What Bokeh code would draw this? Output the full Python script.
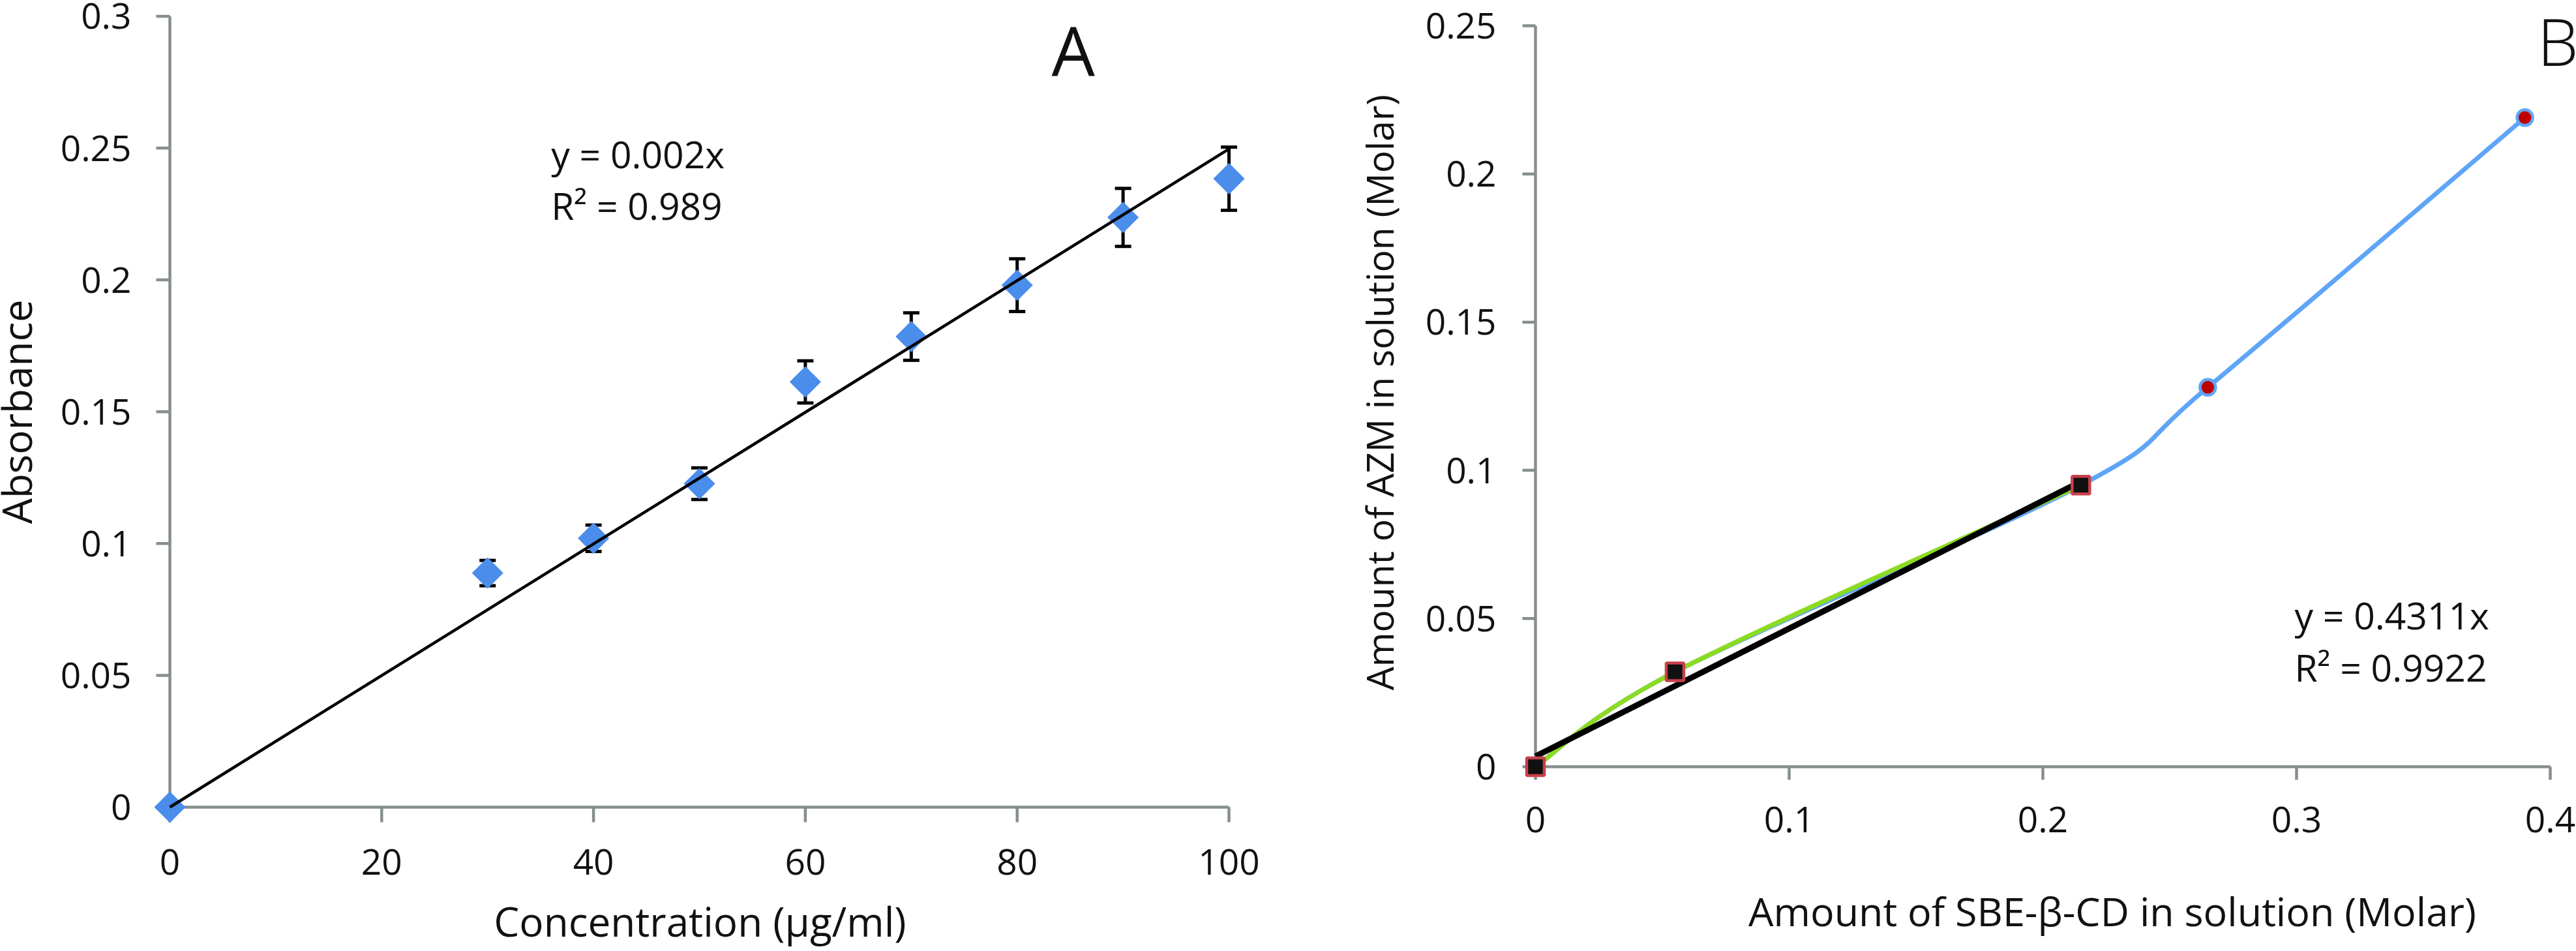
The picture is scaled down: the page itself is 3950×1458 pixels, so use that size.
import numpy as np
from bokeh.plotting import figure
from bokeh.layouts import row
from bokeh.models import Range1d, FixedTicker, Whisker, TeeHead, ColumnDataSource, Label
from bokeh.embed import file_html
from bokeh.resources import INLINE

# ---------------- data: panel A ----------------
conc = [0, 30, 40, 50, 60, 70, 80, 90, 100]
absorbance = [0, 0.0888, 0.102, 0.1227, 0.1613, 0.1785, 0.198, 0.2237, 0.2384]
absorbance_err = [0, 0.0048, 0.005, 0.006, 0.008, 0.009, 0.010, 0.011, 0.012]
a_xticks = [0, 20, 40, 60, 80, 100]
a_xtick_labels = ["0", "20", "40", "60", "80", "100"]
a_yticks = [0, 0.05, 0.1, 0.15, 0.2, 0.25, 0.3]
a_ytick_labels = ["0", "0.05", "0.1", "0.15", "0.2", "0.25", "0.3"]
a_equation = ["y = 0.002x", "R\u00b2 = 0.989"]

# ---------------- data: panel B ----------------
sbe_all = [0, 0.055, 0.215, 0.265, 0.39]
azm_all = [0, 0.032, 0.095, 0.128, 0.219]
sbe_lin = [0, 0.055, 0.215]
azm_lin = [0, 0.032, 0.095]
b_xticks = [0, 0.1, 0.2, 0.3, 0.4]
b_xtick_labels = ["0", "0.1", "0.2", "0.3", "0.4"]
b_yticks = [0, 0.05, 0.1, 0.15, 0.2, 0.25]
b_ytick_labels = ["0", "0.05", "0.1", "0.15", "0.2", "0.25"]
b_equation = ["y = 0.4311x", "R\u00b2 = 0.9922"]

FONT = "Open Sans"
AXIS_GRAY = "#868E8E"
TEXT = "#111111"
TICK_FS = "55px"
H = 1458
BOTTOM = 195          # shared bottom border (frames are aligned in a row)
MID = 0.388           # distance (em) from baseline to text-box middle


def make_fig(width, origin, ppu, border_left):
    # origin: pixel of data (0,0) inside the figure; ppu: pixels per data unit
    ox, oy = origin
    x0 = -(ox - border_left) / ppu[0]
    x1 = (width - ox) / ppu[0]
    y0 = -(H - BOTTOM - oy) / ppu[1]
    y1 = oy / ppu[1]
    p = figure(width=width, height=H, x_range=Range1d(x0, x1), y_range=Range1d(y0, y1),
               output_backend="svg", toolbar_location=None,
               min_border_left=border_left, min_border_right=0,
               min_border_top=0, min_border_bottom=BOTTOM)
    p.xgrid.visible = False
    p.ygrid.visible = False
    p.outline_line_color = None
    p.background_fill_color = "white"
    return p


def style_axes(p, xticks, xlabels, yticks, ylabels, x_standoff, y_standoff, xtick_len, ytick_len):
    for ax, ticks, labels in ((p.xaxis[0], xticks, xlabels), (p.yaxis[0], yticks, ylabels)):
        ax.ticker = FixedTicker(ticks=ticks)
        ax.major_label_overrides = {t: l for t, l in zip(ticks, labels)}
        ax.minor_tick_line_color = None
        ax.major_tick_line_color = None
        ax.major_tick_in = 0
        ax.major_tick_out = 0
        ax.axis_line_color = None
        ax.major_label_text_font = FONT
        ax.major_label_text_font_size = TICK_FS
        ax.major_label_text_color = TEXT
    p.xaxis[0].major_label_standoff = x_standoff
    p.yaxis[0].major_label_standoff = y_standoff
    # axis lines and outward ticks, drawn at the data origin
    p.line([0, max(xticks)], [0, 0], line_color=AXIS_GRAY, line_width=4.5)
    p.line([0, 0], [0, max(yticks)], line_color=AXIS_GRAY, line_width=4.5)
    p.ray(x=xticks, y=[0] * len(xticks), length=xtick_len, length_units="screen", angle=-np.pi / 2,
          line_color=AXIS_GRAY, line_width=4.5)
    p.ray(x=[0] * len(yticks), y=yticks, length=ytick_len, length_units="screen", angle=np.pi,
          line_color=AXIS_GRAY, line_width=4.5)


def bezier_controls(xs, ys):
    xs = np.asarray(xs, float)
    ys = np.asarray(ys, float)
    n = len(xs)
    px = np.concatenate([[xs[0]], xs, [xs[-1]]])
    py = np.concatenate([[ys[0]], ys, [ys[-1]]])
    out = dict(x0=[], y0=[], x1=[], y1=[], cx0=[], cy0=[], cx1=[], cy1=[])
    for i in range(n - 1):
        j = i + 1
        out["x0"].append(px[j]); out["y0"].append(py[j])
        out["x1"].append(px[j + 1]); out["y1"].append(py[j + 1])
        out["cx0"].append(px[j] + (px[j + 1] - px[j - 1]) / 6)
        out["cy0"].append(py[j] + (py[j + 1] - py[j - 1]) / 6)
        out["cx1"].append(px[j + 1] - (px[j + 2] - px[j]) / 6)
        out["cy1"].append(py[j + 1] - (py[j + 2] - py[j]) / 6)
    return out


def text_label(p, ppu, x, y, text, size_px, place="center", align="left", rotated=False):
    # (x, y) is the baseline anchor; convert to the middle of the text box
    shift = MID * size_px
    if rotated:
        x = x - shift / ppu[0]
    else:
        y = y + shift / ppu[1]
    lab = Label(x=x, y=y, text=text, text_font=FONT, text_font_size=f"{size_px}px", text_color=TEXT,
                text_baseline="middle", text_align=align, angle=(np.pi / 2 if rotated else 0.0))
    if place == "center":
        p.add_layout(lab)
    else:
        p.add_layout(lab, place)


# ================= Panel A =================
A_PPU = (16.24, 4042.0)
pA = make_fig(2000, origin=(260, 1237), ppu=A_PPU, border_left=234)
style_axes(pA, a_xticks, a_xtick_labels, a_yticks, a_ytick_labels,
           x_standoff=38, y_standoff=33, xtick_len=23, ytick_len=21)

err_src = ColumnDataSource(dict(
    x=conc[1:],
    upper=[y + e for y, e in zip(absorbance[1:], absorbance_err[1:])],
    lower=[y - e for y, e in zip(absorbance[1:], absorbance_err[1:])],
))
whisk = Whisker(base="x", upper="upper", lower="lower", source=err_src, dimension="height",
                line_color="black", line_width=5, level="underlay",
                upper_head=TeeHead(size=25, line_width=5, line_color="black"),
                lower_head=TeeHead(size=25, line_width=5, line_color="black"))
pA.add_layout(whisk)

pA.scatter(conc, absorbance, marker="square", angle=np.pi / 4, size=34,
           fill_color="#4A8DEB", line_color=None)

xa = np.asarray(conc, float)
ya = np.asarray(absorbance, float)
slope_a = float((xa * ya).sum() / (xa * xa).sum())
pA.line([0, max(conc)], [0, slope_a * max(conc)], line_color="black", line_width=4.5)

text_label(pA, A_PPU, 36.0, 0.2422, a_equation[0], 57)
text_label(pA, A_PPU, 36.0, 0.2227, a_equation[1], 57)
text_label(pA, A_PPU, 85.3, 0.2771, "A", 105, align="center")
text_label(pA, A_PPU, 50.06, -0.0492, "Concentration (\u00b5g/ml)", 62, place="below", align="center")
text_label(pA, A_PPU, -12.99, 0.15, "Absorbance", 62, place="left", align="center", rotated=True)

# ================= Panel B =================
B_PPU = (3890.0, 4544.0)
pB = make_fig(1950, origin=(354, 1175), ppu=B_PPU, border_left=330)
style_axes(pB, b_xticks, b_xtick_labels, b_yticks, b_ytick_labels,
           x_standoff=-27, y_standoff=36, xtick_len=20, ytick_len=20)

blue_src = ColumnDataSource(bezier_controls(sbe_all, azm_all))
pB.bezier(x0="x0", y0="y0", x1="x1", y1="y1", cx0="cx0", cy0="cy0", cx1="cx1", cy1="cy1",
          source=blue_src, line_color="#5FA5F7", line_width=7, line_cap="round")
green_src = ColumnDataSource(bezier_controls(sbe_lin, azm_lin))
pB.bezier(x0="x0", y0="y0", x1="x1", y1="y1", cx0="cx0", cy0="cy0", cx1="cx1", cy1="cy1",
          source=green_src, line_color="#8CDA22", line_width=7, line_cap="round")

slope_b, icpt_b = np.polyfit(sbe_lin, azm_lin, 1)
pB.line([0, max(sbe_lin)], [icpt_b, icpt_b + slope_b * max(sbe_lin)],
        line_color="black", line_width=9)

pB.scatter(sbe_all, azm_all, marker="circle", size=24, fill_color="#C00000",
           line_color="#5FA5F7", line_width=4.5)
pB.scatter(sbe_lin, azm_lin, marker="square", size=27, fill_color="#111111",
           line_color="#C8414B", line_width=4.5)

text_label(pB, B_PPU, 0.2992, 0.0462, b_equation[0], 57)
text_label(pB, B_PPU, 0.2992, 0.0288, b_equation[1], 57)
text_label(pB, B_PPU, 0.3949, 0.2366, "B", 100)
text_label(pB, B_PPU, 0.2294, -0.0539, "Amount of SBE-\u03b2-CD  in solution (Molar)", 61,
           place="below", align="center")
text_label(pB, B_PPU, -0.0558, 0.1263, "Amount of AZM in solution (Molar)", 57,
           place="left", align="center", rotated=True)

layout = row(pA, pB)
open("out.html", "w").write(file_html(layout, INLINE))
